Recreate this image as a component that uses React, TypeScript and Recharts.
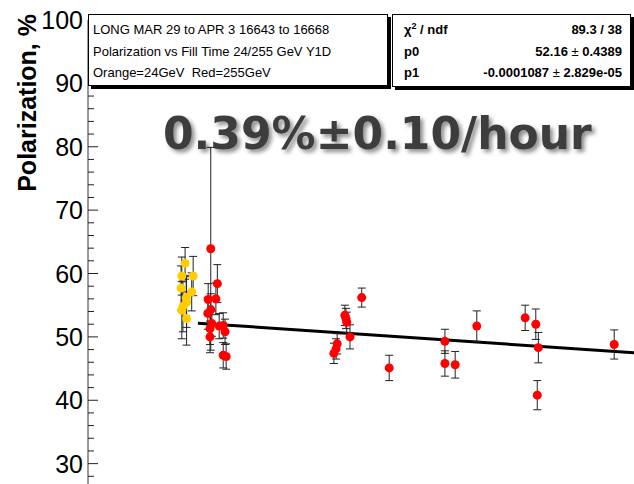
import React from 'react'
import { ScatterChart, Scatter, XAxis, YAxis, ErrorBar, ReferenceLine } from 'recharts'

// fill time in hours, polarization in %
const orangeTime = [-0.35, -0.44, -0.13, -0.46, -0.17, -0.32, -0.31, -0.41, -0.44, -0.31]
const orangePol = [61.6, 59.6, 59.6, 57.7, 57.1, 56.2, 55.5, 54.8, 54.2, 52.9]
const orangeErr = [2.5, 3.0, 3.1, 3.5, 3.0, 3.5, 4.0, 4.0, 4.5, 4.2]

const redTime = [
  0.35, 0.53, 0.28, 0.49, 0.35, 0.27, 0.38, 0.33, 0.58, 0.69, 0.74, 0.33, 0.69, 0.77,
  4.47, 4.01, 4.04, 4.06, 4.15, 3.8, 3.77, 3.71, 5.22, 6.74, 6.74, 7.02, 7.61,
  8.93, 9.22, 9.29, 9.26, 11.36,
]
const redPol = [
  63.9, 58.4, 55.9, 56.0, 54.3, 53.7, 52.1, 51.3, 51.7, 51.8, 50.8, 50.0, 47.1, 46.9,
  56.2, 53.4, 52.9, 52.3, 50.0, 48.9, 48.1, 47.4, 45.1, 49.3, 45.8, 45.6, 51.7,
  53.0, 52.0, 48.3, 40.8, 48.8,
]
const redErr = [
  16, 3.0, 2.5, 2.5, 2.5, 2.5, 2.0, 2.5, 2.0, 2.0, 2.0, 2.5, 2.0, 2.0,
  1.5, 1.6, 1.6, 1.6, 1.9, 1.6, 1.6, 1.6, 2.0, 1.9, 2.0, 2.1, 2.4,
  2.0, 2.4, 2.4, 2.3, 2.3,
]

const yMajor = [30, 40, 50, 60, 70, 80, 90, 100]
const yTicks = [22, 24, 26, 28, 30, 32, 34, 36, 38, 40, 42, 44, 46, 48, 50, 52, 54, 56, 58, 60,
  62, 64, 66, 68, 70, 72, 74, 76, 78, 80, 82, 84, 86, 88, 90, 92, 94, 96, 98, 100]

// fit: pol = p0 + p1 * t[s]
const p0 = 52.16
const p1 = -0.0001087
const tMin = -3
const tMax = 11.9

const orangeData = orangeTime.map((t, i) => ({ t, pol: orangePol[i], err: orangeErr[i] }))
const redData = redTime.map((t, i) => ({ t, pol: redPol[i], err: redErr[i] }))
const fitSegment = [
  { x: 0, y: p0 },
  { x: tMax, y: p0 + p1 * tMax * 3600 },
]

const font = '"Liberation Sans", Arial, sans-serif'

const PolTick = ({ x, y, payload }: any) => {
  const major = yMajor.includes(payload.value)
  const ax = x + 5
  return (
    <g>
      <line x1={ax} x2={ax + (major ? 10 : 6)} y1={y} y2={y} stroke="#222" />
      {major && (
        <text x={x} y={y} textAnchor="end" dominantBaseline="central" fontSize={25} fontFamily={font} fill="#000">
          {payload.value}
        </text>
      )}
    </g>
  )
}

const dot = (color: string) => (props: any) => (
  <circle cx={props.cx} cy={props.cy} r={4.5} fill={color} />
)

const boxStyle: React.CSSProperties = {
  position: 'absolute',
  top: 14,
  background: '#fff',
  border: '1px solid #000',
  boxShadow: '3px 3px 0 #000',
  fontFamily: font,
  fontSize: 13,
  color: '#000',
  boxSizing: 'border-box',
}

export default function App() {
  return (
    <div style={{ position: 'absolute', left: 0, top: 0, width: 634, height: 484, overflow: 'hidden', background: '#fff' }}>
      <ScatterChart width={634} height={527} margin={{ top: 20, right: 0, bottom: 0, left: 0 }}>
        <XAxis type="number" dataKey="t" domain={[tMin, tMax]} hide allowDataOverflow />
        <YAxis
          type="number"
          dataKey="pol"
          domain={[20, 100]}
          ticks={yTicks}
          interval={0}
          width={88}
          tickSize={0}
          tickMargin={5}
          axisLine={{ stroke: '#333' }}
          tick={<PolTick />}
          allowDataOverflow
        />
        <ReferenceLine segment={fitSegment} stroke="#000" strokeWidth={3} />
        <Scatter data={orangeData} shape={dot('#ffcc00')} isAnimationActive={false}>
          <ErrorBar dataKey="err" direction="y" width={4} stroke="#222" strokeWidth={1} />
        </Scatter>
        <Scatter data={redData} shape={dot('#ff0000')} isAnimationActive={false}>
          <ErrorBar dataKey="err" direction="y" width={4} stroke="#222" strokeWidth={1} />
        </Scatter>
      </ScatterChart>

      <svg width={634} height={484} style={{ position: 'absolute', left: 0, top: 0, pointerEvents: 'none' }}>
        <defs>
          <filter id="shadow" x="-5%" y="-30%" width="115%" height="180%">
            <feDropShadow dx="3" dy="3" stdDeviation="2" floodColor="#000" floodOpacity="0.45" />
          </filter>
        </defs>
        <text
          x={36}
          y={14}
          transform="rotate(-90 36 14)"
          textAnchor="end"
          fontFamily={font}
          fontWeight="bold"
          fontSize={25}
          fill="#000"
        >
          Polarization, %
        </text>
        <text
          x={163}
          y={149}
          fontFamily='"DejaVu Sans", sans-serif'
          fontWeight="bold"
          fontSize={44}
          fill="#3c3c3c"
          filter="url(#shadow)"
        >
          0.39%±0.10/hour
        </text>
      </svg>

      <div style={{ ...boxStyle, left: 88, width: 300, height: 72, padding: '4px 0 0 4px', lineHeight: '21.5px' }}>
        <div>LONG MAR 29 to APR 3 16643 to 16668</div>
        <div>Polarization vs Fill Time 24/255 GeV Y1D</div>
        <div>Orange=24GeV&nbsp;&nbsp;Red=255GeV</div>
      </div>

      <div style={{ ...boxStyle, left: 392, width: 239, height: 73, padding: '4px 8px 0 11px', lineHeight: '21.5px', fontWeight: 'bold' }}>
        <div style={{ display: 'flex', justifyContent: 'space-between' }}>
          <span>χ<sup style={{ fontSize: 9, lineHeight: 0 }}>2</sup> / ndf</span>
          <span>89.3 / 38</span>
        </div>
        <div style={{ display: 'flex', justifyContent: 'space-between' }}>
          <span>p0</span>
          <span>52.16<span style={{ fontWeight: 'normal' }}> ± </span>0.4389</span>
        </div>
        <div style={{ display: 'flex', justifyContent: 'space-between' }}>
          <span>p1</span>
          <span>-0.0001087<span style={{ fontWeight: 'normal' }}> ± </span>2.829e-05</span>
        </div>
      </div>
    </div>
  )
}
